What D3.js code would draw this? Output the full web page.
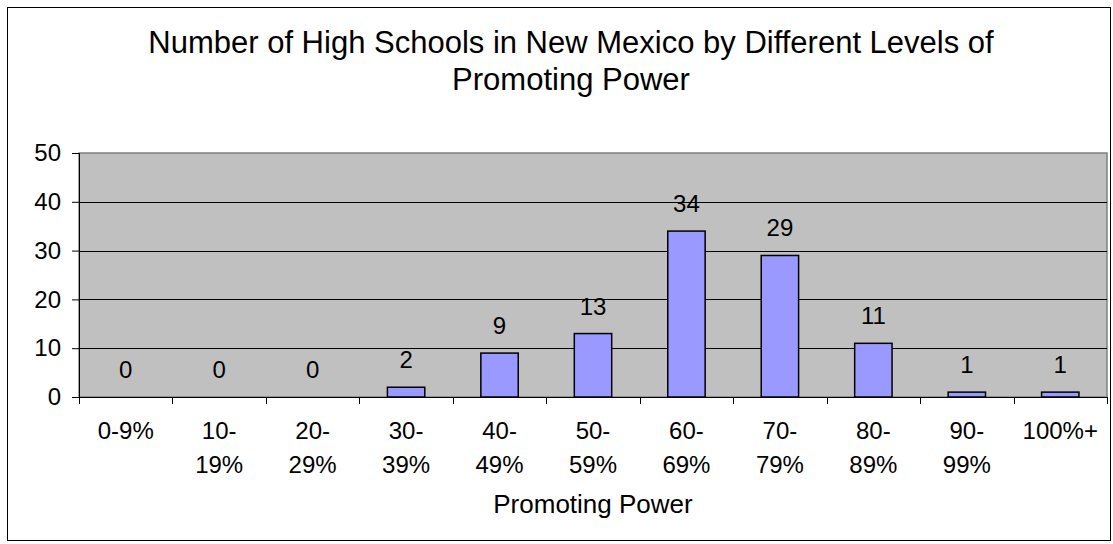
<!DOCTYPE html>
<html>
<head>
<meta charset="utf-8">
<script src="https://d3js.org/d3.v7.min.js"></script>
<style>
  body { margin: 0; background: #fff; }
  text { font-family: "Liberation Sans", Arial, sans-serif; fill: #000; }
</style>
</head>
<body>
<div id="chart"></div>
<script>

var categories = ["0-9%", "10-19%", "20-29%", "30-39%", "40-49%", "50-59%",
                  "60-69%", "70-79%", "80-89%", "90-99%", "100%+"];
var counts = [0, 0, 0, 2, 9, 13, 34, 29, 11, 1, 1];
var yTicks = [0, 10, 20, 30, 40, 50];
var titleLines = ["Number of High Schools in New Mexico by Different Levels of",
                  "Promoting Power"];
var xTitle = "Promoting Power";

var svg_dx = 1113, svg_dy = 544;
var plot = {left: 79, right: 1107, top: 153, bottom: 397};

var svg = d3.select("#chart")
            .append("svg")
            .attr("width", svg_dx)
            .attr("height", svg_dy);

// outer frame
svg.append("rect")
   .attr("x", 7.5).attr("y", 7.5)
   .attr("width", 1103).attr("height", 533)
   .attr("fill", "#fff")
   .attr("stroke", "#000")
   .attr("stroke-width", 1);

var x = d3.scaleBand().domain(categories).range([plot.left, plot.right]).paddingInner(0.6).paddingOuter(0.3);
var xb = d3.scaleBand().domain(categories).range([plot.left, plot.right]);
var y = d3.scaleLinear().domain([0, 50]).range([plot.bottom, plot.top]);

// plot area
svg.append("rect")
   .attr("x", plot.left).attr("y", plot.top)
   .attr("width", plot.right - plot.left).attr("height", plot.bottom - plot.top)
   .attr("fill", "#c0c0c0")
   .attr("stroke", "#808080")
   .attr("stroke-width", 1.5);

// gridlines
svg.append("g")
   .selectAll("line")
   .data(yTicks.filter(d => d > 0 && d < 50))
   .enter()
   .append("line")
   .attr("x1", plot.left).attr("x2", plot.right)
   .attr("y1", d => Math.round(y(d)) + 0.5)
   .attr("y2", d => Math.round(y(d)) + 0.5)
   .attr("stroke", "#000")
   .attr("stroke-width", 1);

// y axis
var axis_y = d3.axisLeft(y).tickValues(yTicks).tickSize(7).tickPadding(11);
var gy = svg.append("g")
   .attr("transform", "translate(" + plot.left + ",0)")
   .call(axis_y);
gy.select(".domain").attr("stroke", "#000");
gy.selectAll("text").style("font-size", "24px").attr("font-family", null);

// x axis (ticks between categories)
svg.append("line")
   .attr("x1", plot.left).attr("x2", plot.right)
   .attr("y1", plot.bottom + 0.5).attr("y2", plot.bottom + 0.5)
   .attr("stroke", "#000");

var bounds = categories.map(c => xb(c)).concat([plot.right]);
svg.append("g")
   .selectAll("line")
   .data(bounds)
   .enter()
   .append("line")
   .attr("x1", d => Math.round(d) + 0.5).attr("x2", d => Math.round(d) + 0.5)
   .attr("y1", plot.bottom).attr("y2", plot.bottom + 7)
   .attr("stroke", "#000");

// category labels, split on the dash
svg.append("g")
   .selectAll("text")
   .data(categories)
   .enter()
   .append("text")
   .attr("text-anchor", "middle")
   .style("font-size", "24px")
   .each(function (d) {
       var cx = xb(d) + xb.bandwidth() / 2;
       var parts = d.indexOf("-") > 0 && d !== "0-9%" ? [d.split("-")[0] + "-", d.split("-")[1]] : [d];
       var t = d3.select(this);
       parts.forEach(function (p, i) {
           t.append("tspan").attr("x", cx).attr("y", 439 + i * 34).text(p);
       });
   });

// bars
svg.append("g")
   .selectAll("rect")
   .data(counts)
   .enter()
   .append("rect")
   .attr("x", (d, i) => x(categories[i]))
   .attr("y", d => y(d))
   .attr("width", x.bandwidth())
   .attr("height", d => plot.bottom - y(d))
   .attr("fill", "#9999ff")
   .attr("stroke", "#000")
   .attr("stroke-width", 1.5);

// value labels
svg.append("g")
   .selectAll("text")
   .data(counts)
   .enter()
   .append("text")
   .attr("x", (d, i) => xb(categories[i]) + xb.bandwidth() / 2)
   .attr("y", d => y(d) - 19)
   .attr("text-anchor", "middle")
   .style("font-size", "24px")
   .text(d => d);

// axis title
svg.append("text")
   .attr("x", (plot.left + plot.right) / 2)
   .attr("y", 513)
   .attr("text-anchor", "middle")
   .style("font-size", "26px")
   .text(xTitle);

// chart title
svg.append("g")
   .selectAll("text")
   .data(titleLines)
   .enter()
   .append("text")
   .attr("x", 571)
   .attr("y", (d, i) => 53 + i * 37)
   .attr("text-anchor", "middle")
   .style("font-size", "31px")
   .text(d => d);

</script>
</body>
</html>
